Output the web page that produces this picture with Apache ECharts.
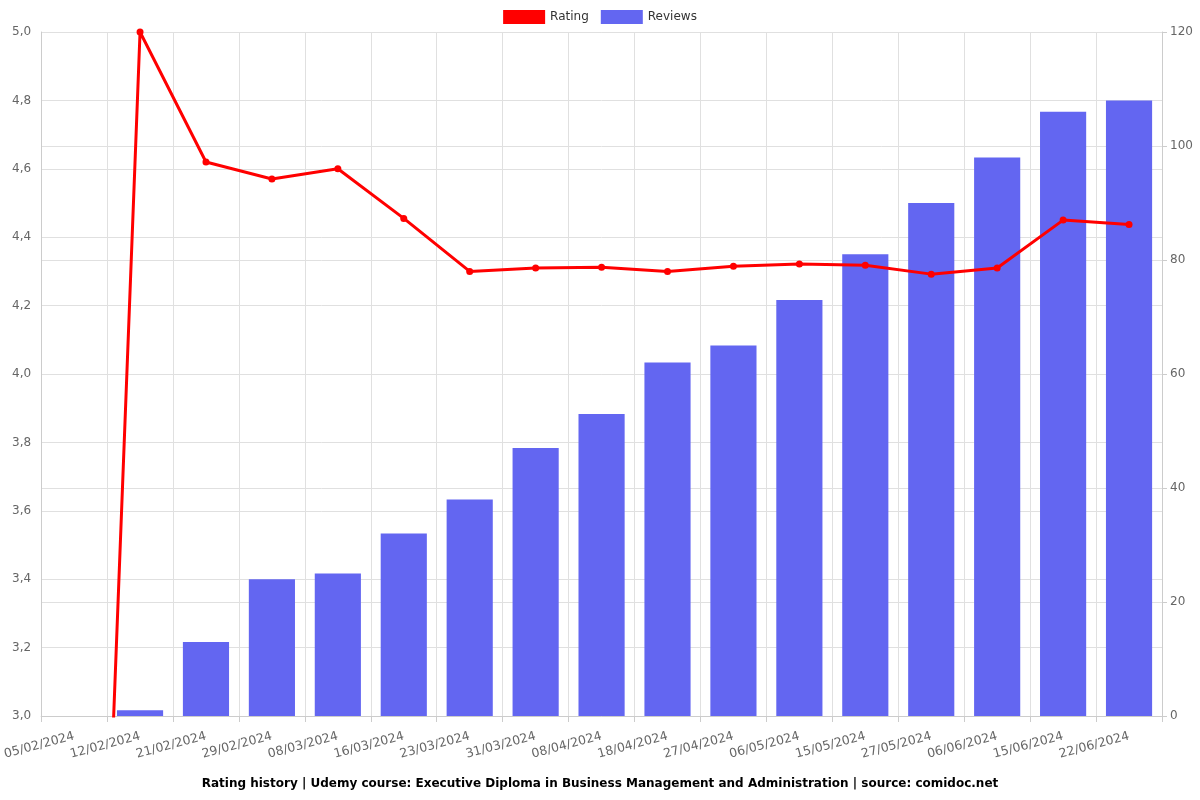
<!DOCTYPE html>
<html>
<head>
<meta charset="utf-8">
<script src="https://cdn.jsdelivr.net/npm/echarts@6/dist/echarts.min.js"></script>
<style>html,body{margin:0;padding:0;background:#fff}#c{width:1200px;height:800px}</style>
</head>
<body>
<div id="c"></div>
<script>
const categories = ["05/02/2024","12/02/2024","21/02/2024","29/02/2024","08/03/2024","16/03/2024","23/03/2024","31/03/2024","08/04/2024","18/04/2024","27/04/2024","06/05/2024","15/05/2024","27/05/2024","06/06/2024","15/06/2024","22/06/2024"];
const rating = [0, 5.0, 4.62, 4.57, 4.60, 4.455, 4.30, 4.31, 4.312, 4.30, 4.315, 4.322, 4.318, 4.292, 4.31, 4.45, 4.437];
const reviews = [0, 1, 13, 24, 25, 32, 38, 47, 53, 62, 65, 73, 81, 90, 98, 106, 108];
const titleText = "Rating history | Udemy course: Executive Diploma in Business Management and Administration | source: comidoc.net";

const chart = echarts.init(document.getElementById('c'));
const font = 'DejaVu Sans';
chart.setOption({
  animation: false,
  textStyle: {fontFamily: font},
  title: {text: titleText, left: 'center', bottom: 5, textStyle: {fontFamily: font, fontSize: 12, fontWeight: 'bold', color: '#000'}},
  legend: {top: 5, left: 'center', itemWidth: 42, itemHeight: 14, itemGap: 12, textStyle: {fontFamily: font, fontSize: 12, color: '#333'},
    data: [{name: 'Rating', icon: 'rect'}, {name: 'Reviews', icon: 'rect'}]},
  grid: {left: 39, right: 38, top: 32, bottom: 84, containLabel: false},
  xAxis: {type: 'category', data: categories, boundaryGap: true,
    axisLine: {lineStyle: {color: '#ccc'}}, axisTick: {show: true, length: 6, lineStyle: {color: '#ccc'}},
    splitLine: {show: true, lineStyle: {color: '#e0e0e0'}},
    axisLabel: {rotate: 15, color: '#666', fontSize: 12.5, fontFamily: font, interval: 0, margin: 20}},
  yAxis: [
    {type: 'value', min: 3, max: 5, interval: 0.2, position: 'left',
      axisLine: {show: true, lineStyle: {color: '#ccc'}}, axisTick: {show: false},
      splitLine: {lineStyle: {color: '#e0e0e0'}},
      axisLabel: {color: '#666', fontSize: 12, fontFamily: font, margin: 10, formatter: v => v.toFixed(1).replace('.', ',')}},
    {type: 'value', min: 0, max: 120, interval: 20, position: 'right',
      axisLine: {show: true, lineStyle: {color: '#ccc'}}, axisTick: {show: true, lineStyle: {color: '#ccc'}},
      splitLine: {lineStyle: {color: '#e0e0e0'}},
      axisLabel: {color: '#666', fontSize: 12, fontFamily: font}}
  ],
  series: [
    {name: 'Rating', type: 'line', yAxisIndex: 0, data: rating, z: 3,
      itemStyle: {color: '#ff0000'}, lineStyle: {color: '#ff0000', width: 3},
      symbol: 'circle', symbolSize: 7, showSymbol: true},
    {name: 'Reviews', type: 'bar', yAxisIndex: 1, data: reviews, barWidth: '70%',
      itemStyle: {color: '#6366f1'}}
  ]
});
</script>
</body>
</html>
